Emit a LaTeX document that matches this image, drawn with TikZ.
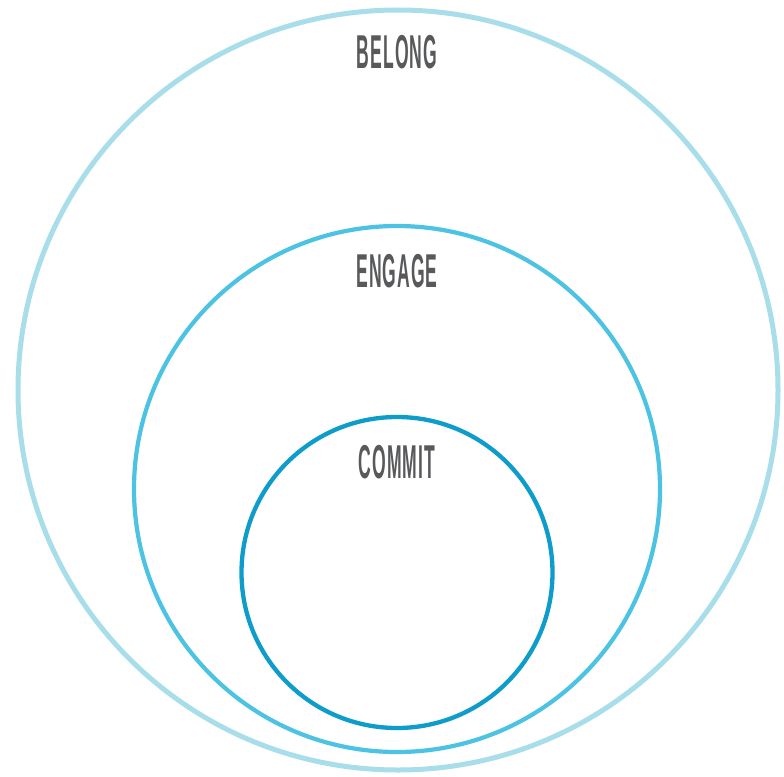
\documentclass[tikz,border=0pt]{standalone}
\usepackage{fontspec}
\setmainfont{Liberation Sans}
\newfontfamily\labelfont[LetterSpace=6]{Liberation Sans}
\definecolor{outerblue}{HTML}{A8DDEA}
\definecolor{midblue}{HTML}{4CC3E3}
\definecolor{innerblue}{HTML}{0E9CCB}
\definecolor{labelgray}{HTML}{58595B}
\tikzset{
  ring/.style={line width=#1},
  lbl/.style={anchor=base, inner sep=0pt, text=labelgray,
    font=\labelfont\bfseries\fontsize{47.5}{50}\selectfont}
}
\newcommand{\condensed}[1]{\scalebox{0.37}[1]{#1}}
\begin{document}
\begin{tikzpicture}[x=1pt,y=-1pt]
\useasboundingbox (0,0) rectangle (784,776);
\fill[white] (0,0) rectangle (784,776);
\draw[ring=5pt, outerblue] (398,390) circle[radius=380];
\draw[ring=4.2pt, midblue] (397,489) circle[radius=263];
\draw[ring=4.3pt, innerblue] (397,572.5) circle[radius=155.5];
\node[lbl] (belong) at (397,69) {\condensed{BELONG}};
\node[lbl] (engage) at (397,287) {\condensed{ENGAGE}};
\node[lbl] (commit) at (397,478) {\condensed{COMMIT}};
\end{tikzpicture}
\end{document}
